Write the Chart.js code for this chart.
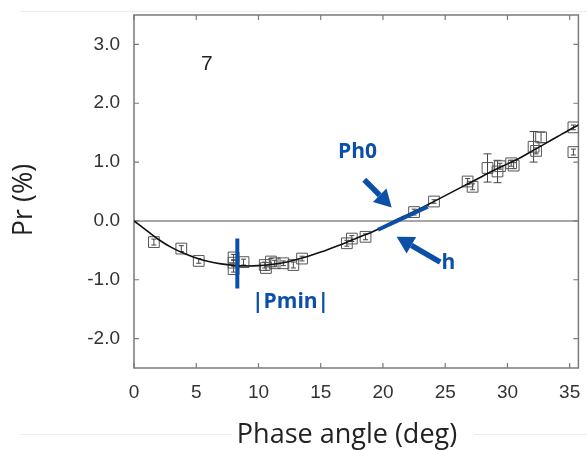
<!DOCTYPE html>
<html>
<head>
<meta charset="utf-8">
<script src="https://cdn.jsdelivr.net/npm/chart.js@4.4.1/dist/chart.umd.min.js"></script>
<style>
  html, body { margin: 0; padding: 0; background: #fff; }
  canvas { display: block; }
</style>
</head>
<body>
<canvas id="chart" width="587" height="450"></canvas>
<script>
// measured points: phase angle (deg), Pr (%), error
const angles = [1.6, 3.8, 5.2, 8.0, 8.0, 8.0, 8.8, 10.5, 10.6, 11.0, 11.3, 12.0, 12.8, 13.5,
                17.1, 17.5, 18.6, 22.5, 24.1, 26.8, 27.2, 28.4, 29.2, 29.4, 30.3, 30.5,
                32.1, 32.3, 32.7, 35.3, 35.3]
const polar = [-0.36, -0.47, -0.68, -0.62, -0.71, -0.82, -0.70, -0.75, -0.80, -0.69, -0.72, -0.72, -0.75, -0.64,
               -0.38, -0.30, -0.27, 0.15, 0.33, 0.67, 0.58, 0.90, 0.84, 0.93, 0.98, 0.94,
               1.26, 1.19, 1.42, 1.59, 1.17]
const errs = [0.05, 0.05, 0.04, 0.05, 0.05, 0.05, 0.05, 0.05, 0.04, 0.05, 0.05, 0.04, 0.05, 0.04,
              0.05, 0.05, 0.05, 0.05, 0.03, 0.05, 0.05, 0.24, 0.19, 0.05, 0.05, 0.05,
              0.26, 0.05, 0.09, 0.04, 0.05]

// fitted phase curve
const curveAngle = [0, 1, 2, 3, 4, 5, 6, 7, 8, 9, 10, 11, 12, 13, 14, 15, 16, 17, 18,
                    19, 20, 21, 22, 23, 24, 25, 26, 27, 28, 29, 30, 31, 32, 33, 34, 35, 35.7]
const curveP = [0, -0.16, -0.32, -0.45, -0.55, -0.63, -0.69, -0.73, -0.755, -0.765, -0.76, -0.74, -0.71,
                -0.66, -0.60, -0.53, -0.45, -0.37, -0.28, -0.2, -0.1, 0.01, 0.11, 0.21, 0.32, 0.43,
                0.54, 0.65, 0.76, 0.87, 0.97, 1.07, 1.19, 1.31, 1.43, 1.55, 1.63]

// annotations
const tangentAngle = [19.6, 23.6]
const tangentP = [-0.15, 0.24]
const pminAngle = [8.3, 8.3]
const pminP = [-0.3, -1.15]

const xTicks = [0, 5, 10, 15, 20, 25, 30, 35]
const yTicks = [-2, -1, 0, 1, 2, 3]

const blue = '#0b4fa8'

function toXY(xs, ys){
    return xs.map((x, i) => ({x: x, y: ys[i]}))
}

function noPad(s){
    s.paddingTop = 0
    s.paddingBottom = 0
    s.paddingLeft = 0
    s.paddingRight = 0
}

const extras = {
    id: 'extras',
    beforeDraw(chart){
        const ctx = chart.ctx
        ctx.save()
        ctx.strokeStyle = '#ececec'
        ctx.lineWidth = 1
        ctx.beginPath()
        ctx.moveTo(20, 11.5); ctx.lineTo(587, 11.5)
        ctx.moveTo(20, 434.5); ctx.lineTo(232, 434.5)
        ctx.moveTo(474, 434.5); ctx.lineTo(587, 434.5)
        ctx.stroke()
        ctx.restore()
    },
    beforeDatasetsDraw(chart){
        const ctx = chart.ctx
        const a = chart.chartArea
        const xs = chart.scales.x, ys = chart.scales.y
        ctx.save()
        // zero line
        ctx.strokeStyle = '#8a8a8a'
        ctx.lineWidth = 1.5
        ctx.beginPath()
        ctx.moveTo(a.left, ys.getPixelForValue(0))
        ctx.lineTo(a.right, ys.getPixelForValue(0))
        ctx.stroke()
        // frame
        ctx.strokeStyle = '#7a7a7a'
        ctx.strokeRect(a.left, a.top, a.right - a.left, a.bottom - a.top)
        // inner ticks
        ctx.lineWidth = 1.2
        ctx.beginPath()
        xTicks.forEach(v => {
            const px = xs.getPixelForValue(v)
            ctx.moveTo(px, a.bottom); ctx.lineTo(px, a.bottom - 5)
            ctx.moveTo(px, a.top); ctx.lineTo(px, a.top + 5)
        })
        yTicks.forEach(v => {
            const py = ys.getPixelForValue(v)
            ctx.moveTo(a.left, py); ctx.lineTo(a.left + 5, py)
            ctx.moveTo(a.right, py); ctx.lineTo(a.right - 5, py)
        })
        ctx.stroke()
        // error bars
        ctx.strokeStyle = '#444'
        ctx.lineWidth = 1
        ctx.beginPath()
        angles.forEach((ang, i) => {
            const px = xs.getPixelForValue(ang)
            const top = ys.getPixelForValue(polar[i] + errs[i])
            const bot = ys.getPixelForValue(polar[i] - errs[i])
            const cap = errs[i] > 0.08 ? 4 : 2.5
            ctx.moveTo(px, top); ctx.lineTo(px, bot)
            ctx.moveTo(px - cap, top); ctx.lineTo(px + cap, top)
            ctx.moveTo(px - cap, bot); ctx.lineTo(px + cap, bot)
        })
        ctx.stroke()
        ctx.restore()
    },
    afterDatasetsDraw(chart){
        const ctx = chart.ctx
        const xs = chart.scales.x, ys = chart.scales.y
        const P = (x, y) => [xs.getPixelForValue(x), ys.getPixelForValue(y)]

        function arrow(from, to){
            const [x1, y1] = P(from[0], from[1])
            const [x2, y2] = P(to[0], to[1])
            const ang = Math.atan2(y2 - y1, x2 - x1)
            const hl = 17, hw = 9.5
            const bx = x2 - hl * Math.cos(ang), by = y2 - hl * Math.sin(ang)
            ctx.strokeStyle = blue
            ctx.fillStyle = blue
            ctx.lineWidth = 5.5
            ctx.beginPath()
            ctx.moveTo(x1, y1); ctx.lineTo(bx, by)
            ctx.stroke()
            ctx.beginPath()
            ctx.moveTo(x2, y2)
            ctx.lineTo(bx + hw * Math.sin(ang), by - hw * Math.cos(ang))
            ctx.lineTo(bx - hw * Math.sin(ang), by + hw * Math.cos(ang))
            ctx.closePath()
            ctx.fill()
        }

        ctx.save()
        arrow([18.5, 0.70], [20.7, 0.23])
        arrow([24.6, -0.70], [21.1, -0.27])

        ctx.textAlign = 'center'
        ctx.textBaseline = 'middle'
        ctx.fillStyle = blue
        ctx.font = 'bold 21px "Open Sans"'
        let p = P(17.95, 1.17)
        ctx.fillText('Ph0', p[0], p[1])
        p = P(25.25, -0.71)
        ctx.fillText('h', p[0], p[1])
        p = P(12.58, -1.38)
        ctx.fillText('|Pmin|', p[0], p[1])

        ctx.fillStyle = '#222'
        ctx.font = '21px "Liberation Sans"'
        p = P(5.85, 2.67)
        ctx.fillText('7', p[0], p[1])
        ctx.restore()
    },
    afterDraw(chart){
        const ctx = chart.ctx
        ctx.save()
        ctx.fillStyle = '#222'
        ctx.font = '27px "Open Sans"'
        ctx.textAlign = 'center'
        ctx.textBaseline = 'alphabetic'
        ctx.fillText('Phase angle (deg)', 347, 443)
        ctx.translate(32, 200)
        ctx.rotate(-Math.PI / 2)
        ctx.fillText('Pr (%)', 0, 0)
        ctx.restore()
    }
}

new Chart(document.getElementById('chart').getContext('2d'), {
    type: 'scatter',
    data: {
        datasets: [
            {
                data: toXY(tangentAngle, tangentP),
                showLine: true,
                borderColor: blue,
                borderWidth: 4,
                pointRadius: 0
            },
            {
                data: toXY(pminAngle, pminP),
                showLine: true,
                borderColor: blue,
                borderWidth: 4,
                pointRadius: 0
            },
            {
                data: toXY(curveAngle, curveP),
                showLine: true,
                borderColor: '#111',
                borderWidth: 1.6,
                pointRadius: 0,
                tension: 0.4
            },
            {
                data: toXY(angles, polar),
                pointStyle: 'rect',
                pointRadius: 7.6,
                borderColor: '#555',
                borderWidth: 1,
                backgroundColor: 'rgba(0,0,0,0)'
            }
        ]
    },
    plugins: [extras],
    options: {
        responsive: false,
        animation: false,
        events: [],
        layout: { padding: { left: 0, top: 15, right: 7, bottom: 0 } },
        plugins: { legend: { display: false }, tooltip: { enabled: false } },
        scales: {
            x: {
                type: 'linear',
                min: 0,
                max: 35.7,
                grid: { display: false, drawTicks: false },
                border: { display: false },
                afterBuildTicks: s => { s.ticks = xTicks.map(v => ({value: v})) },
                afterFit: s => { s.height = 82; noPad(s) },
                ticks: {
                    padding: 13,
                    autoSkip: false,
                    maxRotation: 0,
                    minRotation: 0,
                    color: '#333',
                    font: { family: 'Liberation Sans', size: 19 },
                    callback: v => String(v)
                }
            },
            y: {
                type: 'linear',
                min: -2.5,
                max: 3.5,
                grid: { display: false, drawTicks: false },
                border: { display: false },
                afterBuildTicks: s => { s.ticks = yTicks.map(v => ({value: v})) },
                afterFit: s => { s.width = 134; noPad(s) },
                ticks: {
                    padding: 14,
                    autoSkip: false,
                    color: '#333',
                    font: { family: 'Liberation Sans', size: 19 },
                    callback: v => v.toFixed(1)
                }
            }
        }
    }
})
</script>
</body>
</html>
